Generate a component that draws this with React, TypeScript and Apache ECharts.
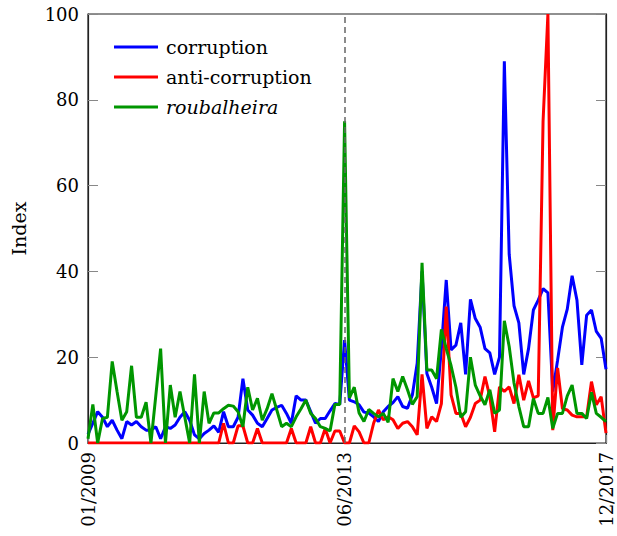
import React, { useEffect, useRef } from "react";
import * as echarts from "echarts";

const FONT = "'DejaVu Serif', 'Liberation Serif', serif";

const START_YEAR = 2009;
const MONTH_COUNT = 108;
const months: string[] = Array.from({ length: MONTH_COUNT }, (_, i) => {
  const y = START_YEAR + Math.floor(i / 12);
  const m = (i % 12) + 1;
  return `${m < 10 ? "0" + m : m}/${y}`;
});

const shownLabels = ["01/2009", "06/2013", "12/2017"];
const markMonth = "06/2013";
const yTicks = { min: 0, max: 100, interval: 20 };

const corruption = [
  2, 4.6, 7.3, 6, 3.8, 5.3, 3, 1, 5, 4.2, 5, 3.8, 3, 3, 3.8, 1, 3.8, 3.4, 4.2, 6,
  7.3, 5.3, 1.9, 1, 2.2, 3, 4, 2.5, 7.3, 3.8, 3.8, 6, 15, 7.7, 6.5, 4.6, 3.8, 5.7, 7.7, 8.3,
  8.8, 6.9, 4.6, 11, 10, 10, 7.3, 4.6, 5.7, 5.7, 7.5, 9.2, 9, 24, 10, 9.6, 8.9, 7.2, 7, 6.1,
  5, 7.3, 8.5, 9.4, 10.8, 8.5, 8.1, 11.2, 18.6, 40, 16.2, 13, 9.2, 22, 38, 21.7, 22.8, 28, 16, 33.5,
  29, 27, 22, 21, 16, 20, 89, 44, 32, 28, 16, 22, 31, 33.3, 36, 35, 12, 19.3, 27, 31.2,
  39, 33.3, 18.2, 29.8, 31, 26, 24.4, 17.2,
];

const antiCorruption = [
  0, 0, 0, 0, 0, 0, 0, 0, 0, 0, 0, 0, 0, 0, 0, 0, 0, 0, 0, 0,
  0, 0, 0, 0, 0, 0, 0, 0, 4.6, 0, 0, 4, 4, 0, 0, 3.4, 0, 0, 0, 0,
  0, 0, 3.4, 0, 0, 0, 3.8, 0, 0, 3.4, 0, 2.8, 2.8, 0, 0, 4, 2.6, 0, 0, 4.6,
  7.7, 5.4, 6.1, 5.4, 3.4, 4.6, 5, 3.8, 1.9, 16, 3.4, 6.1, 5, 9.2, 31.8, 11.2, 6.9, 6.9, 3.8, 6,
  9.2, 10, 15.5, 10.8, 2.6, 13.1, 12, 13.1, 9.2, 15.9, 10, 14.5, 10.5, 11, 75, 100, 3, 17.5, 8, 7.7,
  6.5, 6.1, 6.1, 6.1, 14.3, 8.9, 10.8, 2.3,
];

const roubalheira = [
  1, 9, 0, 5.7, 6, 19, 12, 5.3, 7.3, 18, 6, 6, 9.5, 0, 11, 22, 0, 13.5, 6, 12,
  6, 0, 16, 0, 12, 4.6, 7, 7, 8, 8.8, 8.6, 7.3, 3.8, 13, 7.7, 10.4, 5.3, 8, 11.5, 7.7,
  3.8, 4.6, 3.8, 6.1, 8, 10, 6.9, 5.7, 3.8, 3.4, 2.8, 9, 9, 75, 10.5, 13, 7, 5, 7.8, 6.9,
  6.1, 6.9, 4.8, 15, 12, 15.5, 12.4, 9, 10.8, 42, 17, 17, 15, 26.5, 22, 18, 13, 6, 7.3, 20,
  13.5, 11, 8.9, 12.4, 6.9, 7.7, 28.5, 22.5, 14, 8.5, 3.8, 3.8, 10.4, 6.9, 6.9, 10.6, 3.4, 6.9, 6.9, 11,
  13.5, 6.9, 6.9, 5.7, 11.8, 6.9, 6, 5,
];

const seriesDefs = [
  { name: "corruption", data: corruption, color: "#0000ff" },
  { name: "anti-corruption", data: antiCorruption, color: "#ff0000" },
  { name: "roubalheira", data: roubalheira, color: "#009600" },
];

export default function App() {
  const ref = useRef<HTMLDivElement>(null);
  useEffect(() => {
    if (!ref.current) return;
    const chart = echarts.init(ref.current, null, { renderer: "svg" });
    const showIdx = (idx: number) => shownLabels.includes(months[idx]);
    chart.setOption({
      animation: false,
      backgroundColor: "#fff",
      grid: {
        left: 88,
        right: 11,
        top: 14,
        bottom: 93,
        show: true,
        borderColor: "#222",
        borderWidth: 1.2,
      },
      legend: {
        orient: "vertical",
        left: 114,
        top: 37,
        padding: 0,
        itemWidth: 44,
        itemHeight: 3,
        itemGap: 10,
        icon: "rect",
        data: seriesDefs.map((s) => s.name),
        formatter: (name: string) => (name === "roubalheira" ? `{it|${name}}` : name),
        textStyle: {
          fontFamily: FONT,
          fontSize: 19,
          color: "#000",
          lineHeight: 20,
          padding: [0, 0, 0, 3],
          rich: {
            it: { fontFamily: FONT, fontSize: 19, fontStyle: "italic", color: "#000" },
          },
        },
      },
      xAxis: {
        type: "category",
        data: months,
        boundaryGap: false,
        axisLine: { show: true, lineStyle: { color: "#222", width: 1.2 } },
        axisTick: {
          show: true,
          inside: true,
          length: 8,
          interval: (idx: number) => showIdx(idx),
          lineStyle: { color: "#888" },
        },
        axisLabel: {
          interval: (idx: number) => showIdx(idx),
          rotate: 90,
          margin: 9,
          fontFamily: FONT,
          fontSize: 18,
          color: "#000",
        },
        splitLine: { show: false },
      },
      yAxis: [
        {
          type: "value",
          min: yTicks.min,
          max: yTicks.max,
          interval: yTicks.interval,
          name: "Index",
          nameLocation: "middle",
          nameGap: 60,
          nameTextStyle: { fontFamily: FONT, fontSize: 19, color: "#000" },
          axisLine: { show: true, lineStyle: { color: "#222", width: 1.2 } },
          axisTick: { show: true, inside: true, length: 10, lineStyle: { color: "#888" } },
          axisLabel: { margin: 9, fontFamily: FONT, fontSize: 18, color: "#000" },
          splitLine: { show: false },
        },
        {
          type: "value",
          position: "right",
          min: yTicks.min,
          max: yTicks.max,
          interval: yTicks.interval,
          axisLine: { show: true, lineStyle: { color: "#222", width: 1.2 } },
          axisTick: { show: true, inside: true, length: 10, lineStyle: { color: "#888" } },
          axisLabel: { show: false },
          splitLine: { show: false },
        },
      ],
      series: seriesDefs.map((s, k) => ({
        name: s.name,
        type: "line",
        data: s.data,
        yAxisIndex: 0,
        symbol: "none",
        showSymbol: false,
        color: s.color,
        lineStyle: { color: s.color, width: 3 },
        z: 2 + k,
        ...(k === seriesDefs.length - 1
          ? {
              markLine: {
                silent: true,
                symbol: ["none", "none"],
                label: { show: false },
                lineStyle: { color: "#666", width: 1.5, type: [6, 4] },
                data: [{ xAxis: markMonth }],
              },
            }
          : {}),
      })),
    });
    return () => chart.dispose();
  }, []);
  return (
    <div
      ref={ref}
      style={{ position: "fixed", left: 0, top: 0, width: 617, height: 536, background: "#fff" }}
    />
  );
}
